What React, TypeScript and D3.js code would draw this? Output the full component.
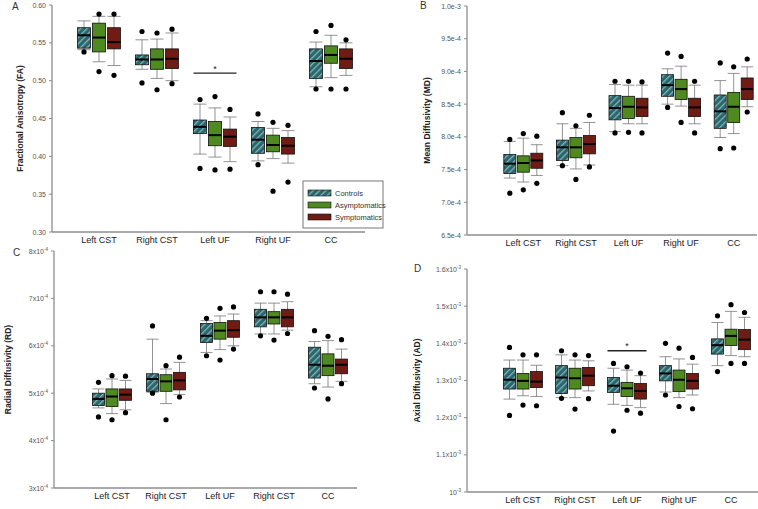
import { useEffect, useRef } from "react";
import * as d3 from "d3";

const groups = ["Controls", "Asymptomatics", "Symptomatics"];
const groupFill = ["url(#hatch)", "#4e8a1f", "#701c14"];

// stat row: [lowWhisker, q1, median, q3, highWhisker, lowOutlier, highOutlier]
const faCategories = ["Left CST", "Right CST", "Left UF", "Right UF", "CC"];
const faStats = [
  [[0.541, 0.543, 0.560, 0.570, 0.579, 0.538, null], [0.525, 0.538, 0.557, 0.576, 0.585, 0.512, 0.588], [0.520, 0.542, 0.551, 0.570, 0.585, 0.507, 0.588]],
  [[0.515, 0.521, 0.528, 0.534, 0.554, 0.497, 0.565], [0.503, 0.515, 0.528, 0.542, 0.555, 0.488, 0.563], [0.500, 0.516, 0.529, 0.542, 0.563, 0.496, 0.568]],
  [[0.403, 0.430, 0.439, 0.448, 0.469, 0.384, 0.475], [0.399, 0.414, 0.428, 0.446, 0.464, 0.382, 0.479], [0.393, 0.413, 0.426, 0.436, 0.452, 0.383, 0.462]],
  [[0.394, 0.404, 0.422, 0.438, 0.446, 0.389, 0.456], [0.397, 0.406, 0.415, 0.428, 0.437, 0.354, 0.445], [0.391, 0.403, 0.414, 0.425, 0.434, 0.366, 0.441]],
  [[0.492, 0.503, 0.526, 0.542, 0.551, 0.489, 0.565], [0.504, 0.523, 0.534, 0.546, 0.560, 0.489, 0.573], [0.507, 0.516, 0.529, 0.542, 0.550, 0.489, 0.554]],
];
const faTicks = [0.30, 0.35, 0.40, 0.45, 0.50, 0.55, 0.60];

const mdCategories = ["Left CST", "Right CST", "Left UF", "Right UF", "CC"];
const mdStats = [
  [[7.37, 7.44, 7.59, 7.73, 7.93, 7.14, 7.96], [7.31, 7.46, 7.60, 7.71, 7.98, 7.19, 8.05], [7.41, 7.52, 7.64, 7.75, 7.88, 7.29, 8.01]],
  [[7.56, 7.64, 7.84, 7.95, 8.20, 7.56, 8.37], [7.51, 7.68, 7.84, 7.99, 8.13, 7.35, 8.17], [7.57, 7.74, 7.89, 8.02, 8.22, 7.54, 8.33]],
  [[8.08, 8.26, 8.44, 8.63, 8.80, 8.06, 8.85], [8.20, 8.28, 8.46, 8.62, 8.79, 8.07, 8.85], [8.20, 8.31, 8.45, 8.59, 8.79, 8.06, 8.84]],
  [[8.50, 8.62, 8.79, 8.95, 9.04, 8.45, 9.28], [8.47, 8.57, 8.73, 8.88, 9.08, 8.22, 9.23], [8.20, 8.31, 8.45, 8.59, 8.79, 8.06, 8.85]],
  [[7.99, 8.13, 8.39, 8.64, 8.86, 7.82, 9.13], [8.05, 8.22, 8.46, 8.68, 8.97, 7.83, 9.07], [8.46, 8.57, 8.73, 8.90, 9.07, 8.38, 9.19]],
];
const mdTicks = [6.5, 7.0, 7.5, 8.0, 8.5, 9.0, 9.5, 10.0];

const rdCategories = ["Left CST", "Right CST", "Left UF", "Right CST", "CC"];
const rdStats = [
  [[4.69, 4.74, 4.88, 5.00, 5.09, 4.50, 5.23], [4.57, 4.72, 4.93, 5.09, 5.30, 4.44, 5.37], [4.65, 4.85, 4.97, 5.09, 5.27, 4.59, 5.36]],
  [[5.02, 5.04, 5.30, 5.41, 6.14, 5.00, 6.42], [4.78, 5.04, 5.25, 5.39, 5.51, 4.44, 5.58], [4.97, 5.07, 5.27, 5.44, 5.65, 4.92, 5.76]],
  [[5.86, 6.07, 6.21, 6.47, 6.53, 5.79, 6.58], [5.92, 6.14, 6.32, 6.49, 6.63, 5.70, 6.79], [6.00, 6.18, 6.33, 6.53, 6.67, 5.93, 6.82]],
  [[6.25, 6.40, 6.60, 6.77, 6.90, 6.21, 7.14], [6.25, 6.46, 6.60, 6.72, 6.90, 6.12, 7.14], [6.33, 6.40, 6.60, 6.77, 6.93, 6.26, 7.09]],
  [[5.20, 5.32, 5.60, 5.97, 6.09, 5.11, 6.32], [5.13, 5.37, 5.58, 5.83, 6.11, 4.88, 6.20], [5.25, 5.41, 5.60, 5.72, 5.93, 5.20, 6.13]],
];
const rdTicks = [3, 4, 5, 6, 7, 8];

const adCategories = ["Left CST", "Right CST", "Left UF", "Right UF", "CC"];
const adStats = [
  [[1.250, 1.277, 1.302, 1.333, 1.355, 1.206, 1.389], [1.259, 1.277, 1.299, 1.319, 1.355, 1.234, 1.369], [1.257, 1.281, 1.297, 1.324, 1.341, 1.232, 1.369]],
  [[1.254, 1.265, 1.308, 1.340, 1.369, 1.252, 1.380], [1.254, 1.277, 1.306, 1.333, 1.355, 1.223, 1.369], [1.272, 1.286, 1.313, 1.335, 1.353, 1.251, 1.367]],
  [[1.236, 1.268, 1.286, 1.308, 1.333, 1.164, 1.346], [1.233, 1.257, 1.279, 1.295, 1.328, 1.220, 1.337], [1.227, 1.250, 1.272, 1.292, 1.313, 1.212, 1.320]],
  [[1.269, 1.299, 1.319, 1.340, 1.364, 1.261, 1.400], [1.254, 1.270, 1.302, 1.328, 1.358, 1.230, 1.387], [1.261, 1.277, 1.299, 1.319, 1.344, 1.224, 1.362]],
  [[1.340, 1.371, 1.395, 1.412, 1.456, 1.324, 1.474], [1.367, 1.394, 1.420, 1.438, 1.486, 1.346, 1.504], [1.364, 1.383, 1.410, 1.437, 1.470, 1.346, 1.483]],
];
const adTicks = [1.0, 1.1, 1.2, 1.3, 1.4, 1.5, 1.6];

const panels = [
  {
    letter: "A", title: "Fractional Anisotropy (FA)", categories: faCategories, stats: faStats, ticks: faTicks,
    axisX: 52, axisEnd: 365, band: [70, 360], yRange: [232, 5], domain: [0.30, 0.60], boxW: 13, step: 15,
    fmt: (v) => [d3.format(".2f")(v), ""], titleX: 20, letterPos: [12, 10], sig: { cat: 2, y: 0.51, lab: "*" },
  },
  {
    letter: "B", title: "Mean Diffusivity (MD)", categories: mdCategories, stats: mdStats, ticks: mdTicks,
    axisX: 467, axisEnd: 757, band: [497, 760], yRange: [235, 6], domain: [6.5, 10.0], boxW: 12, step: 13.5,
    fmt: (v) => [v === 10 ? "1.0e-3" : d3.format(".1f")(v) + "e-4", ""], titleX: 427, letterPos: [420, 9], sig: null,
  },
  {
    letter: "C", title: "Radial Diffusivity (RD)", categories: rdCategories, stats: rdStats, ticks: rdTicks,
    axisX: 54, axisEnd: 357, band: [85, 355], yRange: [488, 251], domain: [3, 8], boxW: 12, step: 13.5,
    fmt: (v) => [v + "x10", "-4"], titleX: 8, letterPos: [13, 256], sig: null,
  },
  {
    letter: "D", title: "Axial Diffusivity (AD)", categories: adCategories, stats: adStats, ticks: adTicks,
    axisX: 467, axisEnd: 758, band: [497, 757], yRange: [492, 269], domain: [1.0, 1.6], boxW: 12, step: 13.5,
    fmt: (v) => [v === 1 ? "10" : d3.format(".1f")(v) + "x10", "-3"], titleX: 417, letterPos: [414, 272], sig: { cat: 2, y: 1.38, lab: "*" },
  },
];

export default function App() {
  const ref = useRef(null);

  useEffect(() => {
    document.body.style.margin = "0";
    const svg = d3.select(ref.current);
    svg.selectAll("*").remove();

    const defs = svg.append("defs");
    const pat = defs.append("pattern")
      .attr("id", "hatch")
      .attr("patternUnits", "userSpaceOnUse")
      .attr("width", 4.5)
      .attr("height", 4.5)
      .attr("patternTransform", "rotate(45)");
    pat.append("rect").attr("width", 4.5).attr("height", 4.5).attr("fill", "#2a666c");
    pat.append("rect").attr("width", 1.3).attr("height", 4.5).attr("fill", "#7fb4b7");

    const font = "'Liberation Sans', Arial, sans-serif";

    panels.forEach((p) => {
      const g = svg.append("g").style("font-family", font);
      const y = d3.scaleLinear().domain(p.domain).range(p.yRange);
      const x = d3.scaleBand().domain(d3.range(p.categories.length)).range(p.band);

      // axes
      g.append("line")
        .attr("x1", p.axisX).attr("x2", p.axisX)
        .attr("y1", p.yRange[0]).attr("y2", p.yRange[1])
        .attr("stroke", "#8c8c8c").attr("stroke-width", 1.3);
      g.append("line")
        .attr("x1", p.axisX).attr("x2", p.axisEnd)
        .attr("y1", p.yRange[0]).attr("y2", p.yRange[0])
        .attr("stroke", "#8c8c8c").attr("stroke-width", 1.3);

      p.ticks.forEach((t) => {
        const ty = y(t);
        g.append("line")
          .attr("x1", p.axisX - 3).attr("x2", p.axisX)
          .attr("y1", ty).attr("y2", ty)
          .attr("stroke", "#8c8c8c").attr("stroke-width", 1);
        const [base, sup] = p.fmt(t);
        const txt = g.append("text")
          .attr("x", p.axisX - 6).attr("y", ty + 2.5)
          .attr("text-anchor", "end")
          .attr("font-size", 7)
          .attr("fill", "#555");
        txt.append("tspan").text(base);
        if (sup) {
          txt.append("tspan").attr("dy", -3).attr("font-size", 4.5).text(sup);
        }
      });

      g.append("text")
        .attr("x", p.letterPos[0]).attr("y", p.letterPos[1])
        .attr("font-size", 10)
        .attr("fill", "#333")
        .text(p.letter);

      const midY = (p.yRange[0] + p.yRange[1]) / 2;
      g.append("text")
        .attr("transform", `translate(${p.titleX},${midY}) rotate(-90)`)
        .attr("text-anchor", "middle")
        .attr("dy", "0.35em")
        .attr("font-size", 8.5)
        .attr("font-weight", "bold")
        .attr("fill", "#222")
        .text(p.title);

      // category labels
      p.categories.forEach((c, i) => {
        g.append("text")
          .attr("x", x(i) + x.bandwidth() / 2)
          .attr("y", p.yRange[0] + 11)
          .attr("text-anchor", "middle")
          .attr("font-size", 9)
          .attr("fill", "#1a1a1a")
          .text(c);
      });

      // boxes
      p.stats.forEach((cat, i) => {
        const cx = x(i) + x.bandwidth() / 2;
        cat.forEach((s, gi) => {
          const bx = cx + (gi - 1) * p.step;
          const hw = p.boxW / 2;
          const [lo, q1, med, q3, hi, oLo, oHi] = s;
          g.append("line")
            .attr("x1", bx).attr("x2", bx)
            .attr("y1", y(lo)).attr("y2", y(hi))
            .attr("stroke", "#777").attr("stroke-width", 0.8);
          [lo, hi].forEach((w) => {
            g.append("line")
              .attr("x1", bx - hw).attr("x2", bx + hw)
              .attr("y1", y(w)).attr("y2", y(w))
              .attr("stroke", "#777").attr("stroke-width", 0.8);
          });
          g.append("rect")
            .attr("x", bx - hw).attr("width", p.boxW)
            .attr("y", y(q3)).attr("height", y(q1) - y(q3))
            .attr("fill", groupFill[gi])
            .attr("stroke", "#111").attr("stroke-width", 0.8);
          g.append("line")
            .attr("x1", bx - hw).attr("x2", bx + hw)
            .attr("y1", y(med)).attr("y2", y(med))
            .attr("stroke", "#000").attr("stroke-width", 2);
          [oLo, oHi].forEach((o) => {
            if (o == null) return;
            g.append("circle")
              .attr("cx", bx).attr("cy", y(o)).attr("r", 2.6)
              .attr("fill", "#000");
          });
        });
      });

      if (p.sig) {
        const cx = x(p.sig.cat) + x.bandwidth() / 2;
        const sy = y(p.sig.y);
        g.append("line")
          .attr("x1", cx - p.step - p.boxW / 2).attr("x2", cx + p.step + p.boxW / 2)
          .attr("y1", sy).attr("y2", sy)
          .attr("stroke", "#222").attr("stroke-width", 1.3);
        g.append("text")
          .attr("x", cx).attr("y", sy - 1.5)
          .attr("text-anchor", "middle")
          .attr("font-size", 9)
          .attr("fill", "#222")
          .text(p.sig.lab);
      }
    });

    // legend
    const lg = svg.append("g").style("font-family", font);
    lg.append("rect")
      .attr("x", 303).attr("y", 181).attr("width", 80).attr("height", 47)
      .attr("fill", "#fff").attr("stroke", "#777").attr("stroke-width", 1);
    groups.forEach((name, i) => {
      const ly = 190 + i * 12;
      lg.append("rect")
        .attr("x", 308).attr("y", ly).attr("width", 23).attr("height", 6)
        .attr("fill", groupFill[i]).attr("stroke", "#111").attr("stroke-width", 0.6);
      lg.append("text")
        .attr("x", 335).attr("y", ly + 6)
        .attr("font-size", 7.5)
        .attr("fill", "#333")
        .text(name);
    });
  }, []);

  return <svg ref={ref} width={758} height={509} style={{ display: "block", background: "#fff" }} />;
}
